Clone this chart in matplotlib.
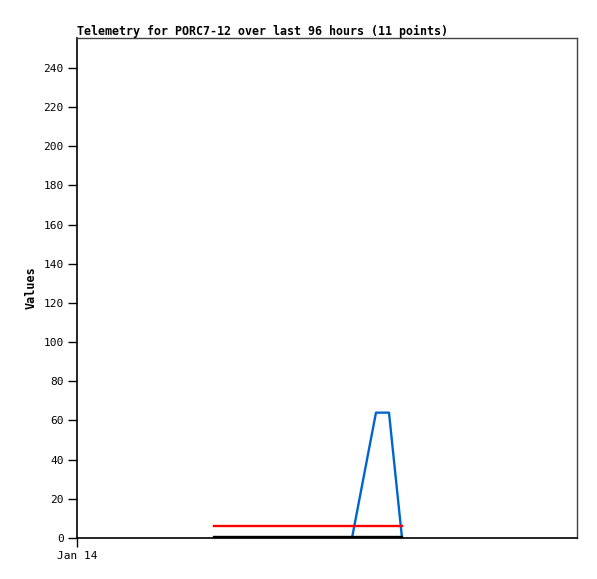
import matplotlib
matplotlib.use("Agg")
import matplotlib.pyplot as plt

# hours since Jan 14 00:00
hours = [26.3, 29.9, 33.5, 37.1, 40.7, 44.3, 47.9, 52.8, 57.4, 59.9, 62.4]
blue_vals = [0, 0, 0, 0, 0, 0, 0, 0, 64, 64, 0]
red_vals = [6] * 11
black_vals = [0] * 11

yticks = list(range(0, 241, 20))
xticks = [0]
xlabels = ["Jan 14"]

plt.rcParams['font.family'] = ['DejaVu Sans Mono']

fig = plt.figure(figsize=(5.97, 5.79), dpi=100)
ax = fig.add_axes([0.129, 0.0708, 0.8375, 0.8636])

ax.plot(hours, blue_vals, color='#0066cc', lw=1.7)
ax.plot(hours, red_vals, color='#ff0000', lw=1.7)
ax.plot(hours, [v + 0.4 for v in black_vals], color='#000000', lw=1.7, clip_on=False)

ax.set_xlim(0, 96)
ax.set_ylim(0, 255.3)
ax.set_yticks(yticks)
ax.set_xticks(xticks)
ax.set_xticklabels(xlabels)
ax.tick_params(axis='both', direction='out', length=6.5, width=1, labelsize=8, colors='black')
ax.tick_params(axis='y', pad=3)
ax.tick_params(axis='x', pad=3)

for side in ['left', 'bottom']:
    ax.spines[side].set_color('black')
    ax.spines[side].set_linewidth(1.2)
for side in ['top', 'right']:
    ax.spines[side].set_color('#444444')
    ax.spines[side].set_linewidth(1)

ax.set_ylabel("Values", fontsize=8.5, fontweight='bold', labelpad=4)
ax.set_title("Telemetry for PORC7-12 over last 96 hours (11 points)",
             loc='left', fontsize=8.4, fontweight='bold', pad=2)

fig.savefig("out.png", dpi=100)
